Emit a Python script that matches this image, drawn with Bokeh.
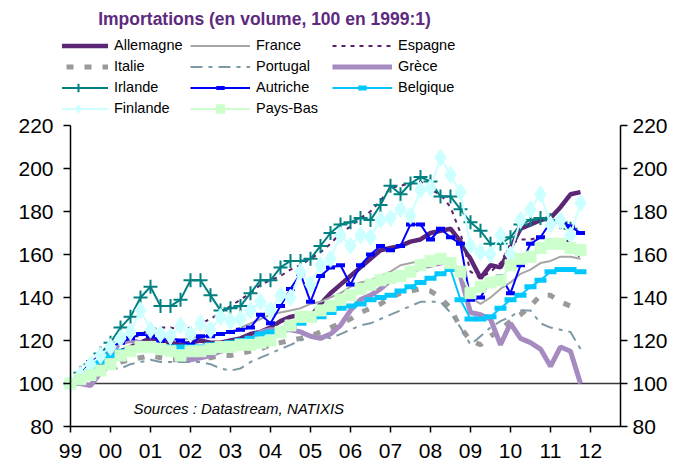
from bokeh.plotting import figure
from bokeh.models import Range1d, LinearAxis, FixedTicker, Legend, LegendItem, Label
from bokeh.embed import file_html
from bokeh.resources import INLINE

nan = float("nan")

quarters = [f"{1999 + i // 4}:{i % 4 + 1}" for i in range(52)]
xq = [int(q.split(":")[0]) + (int(q.split(":")[1]) - 1) / 4 for q in quarters]

year_ticks = list(range(1999, 2013))
year_labels = ["99", "00", "01", "02", "03", "04", "05", "06", "07", "08", "09", "10", "11", "12"]
y_ticks = [80, 100, 120, 140, 160, 180, 200, 220]

allemagne = [100,103,106,109,112,115,117,119,121,120,119,118,119,120,119,119,120,121,123,124,
             126,129,131,132,131,137,142,146,150,154,158,162,163,164,166,167,170,171,172,166,
             158,149,155,154,163,172,174,176,177,182,188,189]
france = [100,104,108,112,116,119,121,123,124,122,121,120,121,122,122,123,124,126,128,130,
          132,133,134,135,137,138,140,142,145,147,148,150,152,155,156,157,158,158,157,150,
          140,137,140,144,147,151,153,156,157,159,159,158]
espagne = [100,104,107,111,114,118,120,123,125,126,126,125,126,128,130,133,136,139,142,146,
           148,150,153,155,158,161,165,170,173,177,180,185,191,192,193,194,190,188,182,170,
           152,149,152,156,165,167,167,168,167,167,166,158]
italie = [100,102,104,106,108,110,111,112,113,112,111,111,112,112,112,113,113,114,115,116,
          118,119,120,121,122,124,126,128,130,133,135,137,140,142,143,144,143,140,135,126,
          120,118,122,125,129,132,136,141,141,138,136,nan]
portugal = [100,102,104,106,107,107,109,110,111,110,110,110,110,110,109,107,106,107,110,112,
            114,116,118,120,122,122,121,123,125,127,128,130,132,134,136,138,138,138,133,126,
            118,122,126,129,131,134,134,128,126,125,124,116]
grece = [100,100,99,105,114,119,120,119,117,116,116,113,111,112,113,115,116,117,120,124,
         125,125,125,124,122,121,123,127,134,139,141,144,148,150,152,154,155,156,157,150,
         133,132,130,118,128,121,119,116,108,117,115,100]
irlande = [100,105,109,114,119,126,131,140,145,136,136,139,148,148,141,134,135,136,142,148,
           148,154,157,157,158,164,170,174,175,177,176,183,192,188,193,196,194,187,187,181,
           175,171,165,165,168,174,176,177,176,175,172,nan]
autriche = [100,104,110,113,117,119,121,123,122,120,121,120,118,122,122,123,124,125,126,132,
            128,136,144,151,138,150,154,155,146,155,160,164,162,164,174,174,167,172,168,165,
            139,140,148,150,142,155,165,168,175,176,173,170]
belgique = [100,103,106,110,113,115,116,117,118,117,117,117,117,117,118,118,119,120,121,123,
            124,125,127,128,130,131,133,135,136,137,139,140,141,143,145,147,149,151,153,139,
            130,130,131,135,139,141,145,148,152,153,153,152]
finlande = [100,104,109,113,117,121,124,134,125,123,122,127,123,128,125,131,129,130,134,138,
            134,141,140,152,146,155,158,169,164,169,168,176,177,181,178,190,191,205,197,189,
            164,161,160,169,160,176,181,188,174,176,169,184]
paysbas = [100,102,104,106,109,113,115,117,117,116,115,113,115,115,116,117,117,118,118,119,
           120,124,127,131,131,134,136,139,141,144,146,148,149,150,152,155,157,158,156,152,
           142,145,147,148,155,158,159,163,165,165,163,162]

FONT = "Liberation Sans"
W, H = 687, 468
LEFT, RIGHT, BOTTOM = 62, 59, 35          # border sizes (px)
PX_PER_YEAR = 40.0
PX_PER_UNIT = 2.15
X_START, X_END = 1999, 2012.75           # axis extent (data)
Y_START, Y_END = 80, 220
TICK_X = 7 / PX_PER_YEAR                 # tick length in data units (horizontal)
TICK_Y = 6 / PX_PER_UNIT                 # tick length in data units (vertical)

x0 = X_START - 8 / PX_PER_YEAR
x1 = x0 + (W - LEFT - RIGHT) / PX_PER_YEAR
y0 = Y_START - 7 / PX_PER_UNIT
y1 = y0 + (H - BOTTOM) / PX_PER_UNIT


def xd(px):
    return x0 + (px - LEFT) / PX_PER_YEAR


def yd(py):
    return y0 + (H - BOTTOM - py) / PX_PER_UNIT


p = figure(width=W, height=H, x_range=Range1d(x0, x1), y_range=Range1d(y0, y1),
           output_backend="svg", toolbar_location=None,
           min_border_left=LEFT, min_border_right=RIGHT, min_border_top=0, min_border_bottom=BOTTOM)
p.title_location = None
p.background_fill_color = "white"
p.border_fill_color = "white"
p.outline_line_color = None
p.xgrid.visible = False
p.ygrid.visible = False

# axes (labels from Bokeh axes; rules and ticks drawn below)
xa = p.xaxis[0]
xa.ticker = FixedTicker(ticks=year_ticks)
xa.major_label_overrides = {t: l for t, l in zip(year_ticks, year_labels)}
ya = p.yaxis[0]
ya.ticker = FixedTicker(ticks=y_ticks)
yr = LinearAxis(ticker=FixedTicker(ticks=y_ticks))
p.add_layout(yr, "right")
for ax in (xa, ya, yr):
    ax.axis_line_color = None
    ax.major_tick_line_color = None
    ax.minor_tick_line_color = None
    ax.major_tick_in = 0
    ax.major_tick_out = 0
    ax.minor_tick_in = 0
    ax.minor_tick_out = 0
    ax.major_label_text_font = FONT
    ax.major_label_text_font_size = "21px"
    ax.major_label_text_color = "black"
xa.major_label_standoff = 10
ya.major_label_standoff = 9
yr.major_label_standoff = 4

# reference line at 100
p.segment(x0=[X_START], y0=[100], x1=[X_END], y1=[100], line_color="#3a3a3a", line_width=1.5)

series = [
    ("Allemagne", allemagne, dict(line_color="#5B2676", line_width=4.5), None),
    ("France", france, dict(line_color="#A6A6A6", line_width=2), None),
    ("Espagne", espagne, dict(line_color="#5A1E6E", line_width=2, line_dash="4 5"), None),
    ("Italie", italie, dict(line_color="#9A9A9A", line_width=5, line_dash="7 11"), None),
    ("Portugal", portugal, dict(line_color="#7E99A6", line_width=2, line_dash="12 6 4 6"), None),
    ("Grèce", grece, dict(line_color="#A68BC1", line_width=5), None),
    ("Irlande", irlande, dict(line_color="#008080", line_width=2),
     dict(marker="cross", size=14, line_color="#008080", line_width=2)),
    ("Autriche", autriche, dict(line_color="#0000FF", line_width=2),
     dict(marker="dash", size=9, line_color="#0000FF", line_width=4)),
    ("Belgique", belgique, dict(line_color="#00C8FF", line_width=2),
     dict(marker="dash", size=12, line_color="#00C8FF", line_width=5)),
    ("Finlande", finlande, dict(line_color="#CCFFFF", line_width=2),
     dict(marker="diamond", size=17, line_color="#CCFFFF", fill_color="#CCFFFF", line_width=1)),
    ("Pays-Bas", paysbas, dict(line_color="#CCFFCC", line_width=2),
     dict(marker="square", size=11, line_color="#CCFFCC", fill_color="#CCFFCC", line_width=1)),
]

items = []
for name, vals, lstyle, mstyle in series:
    rs = [p.line(xq, vals, **lstyle)]
    if mstyle is not None:
        rs.append(p.scatter(xq, vals, **mstyle))
    items.append(LegendItem(label=name, renderers=rs))

# axis rules: left, right, bottom
p.segment(x0=[X_START, X_END, X_START], y0=[Y_START, Y_START, Y_START],
          x1=[X_START, X_END, X_END], y1=[Y_END, Y_END, Y_START],
          line_color="black", line_width=1.5)
# outward ticks
p.segment(x0=[X_START - TICK_X] * len(y_ticks), y0=y_ticks, x1=[X_START] * len(y_ticks), y1=y_ticks,
          line_color="black", line_width=1.5)
p.segment(x0=[X_END] * len(y_ticks), y0=y_ticks, x1=[X_END + TICK_X] * len(y_ticks), y1=y_ticks,
          line_color="black", line_width=1.5)
p.segment(x0=year_ticks, y0=[Y_START - TICK_Y] * len(year_ticks), x1=year_ticks,
          y1=[Y_START] * len(year_ticks), line_color="black", line_width=1.5)

legend = Legend(items=items, orientation="horizontal", ncols=3, location=(48 - LEFT, H - BOTTOM - 118.5),
                glyph_width=60, glyph_height=21, label_height=21, label_width=76,
                label_standoff=6, spacing=0, padding=2, margin=0,
                border_line_color=None, background_fill_alpha=0,
                label_text_font=FONT, label_text_font_size="14.5px", label_text_color="black")
p.add_layout(legend)

p.add_layout(Label(x=xd(264), y=yd(18),
                   text="Importations (en volume, 100 en 1999:1)",
                   text_font=FONT, text_font_size="17.5px", text_font_style="bold",
                   text_color="#5E2A7E", text_align="center", text_baseline="middle"))

p.add_layout(Label(x=xd(133), y=yd(408),
                   text="Sources : Datastream, NATIXIS",
                   text_font=FONT, text_font_size="15px", text_font_style="italic",
                   text_baseline="middle", text_color="black"))

open("out.html", "w").write(file_html(p, INLINE))
